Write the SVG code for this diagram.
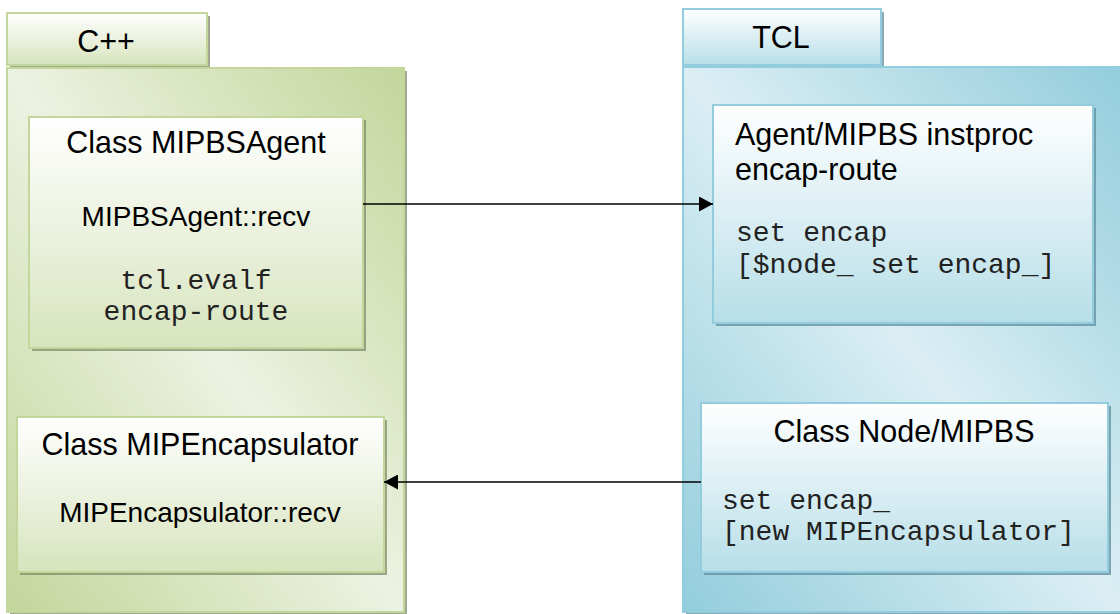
<svg xmlns="http://www.w3.org/2000/svg" width="1120" height="614" viewBox="0 0 1120 614">
<style>
.t{font-family:"Liberation Sans",Arial,sans-serif;font-size:30.5px;fill:#000}
.b{font-family:"Liberation Sans",Arial,sans-serif;font-size:28px;fill:#000}
.m{font-family:"Liberation Mono","Courier New",monospace;font-size:28px;fill:#222}
.gs{fill:#7f8c6a;opacity:.75}
.bs{fill:#5f8e9c;opacity:.75}
.gb{stroke:#c3d69b;stroke-width:2}
.bb{stroke:#93cddd;stroke-width:2}
.c{stroke:#000;stroke-width:1.5;fill:none;marker-end:url(#ah)}
</style>
<defs>
<linearGradient id="gPanel" gradientUnits="objectBoundingBox" x1="1" y1="0" x2="0" y2="1">
<stop offset="0" stop-color="#c3d69b"/><stop offset="0.5" stop-color="#ecf2e1"/><stop offset="1" stop-color="#c3d69b"/>
</linearGradient>
<linearGradient id="bPanel" gradientUnits="objectBoundingBox" x1="1" y1="0" x2="0" y2="1">
<stop offset="0" stop-color="#92cddc"/><stop offset="0.5" stop-color="#dbeef4"/><stop offset="1" stop-color="#92cddc"/>
</linearGradient>
<linearGradient id="gBox" x1="0" y1="0" x2="0" y2="1">
<stop offset="0" stop-color="#ffffff"/><stop offset="1" stop-color="#d7e4bd"/>
</linearGradient>
<linearGradient id="bBox" x1="0" y1="0" x2="0" y2="1">
<stop offset="0" stop-color="#ffffff"/><stop offset="1" stop-color="#b7dee8"/>
</linearGradient>
<marker id="ah" viewBox="0 0 14 15" refX="14" refY="7.5" markerWidth="14" markerHeight="15" markerUnits="userSpaceOnUse" orient="auto">
<path d="M0,0 L14,7.5 L0,15 Z" fill="#000"/>
</marker>
</defs>

<g id="cpp">
<rect class="gs" x="10" y="16" width="200" height="52"/>
<rect class="gb" x="7" y="13" width="200" height="52" fill="url(#gBox)"/>
<text class="t" x="106" y="52" text-anchor="middle">C++</text>
<rect class="gs" x="10" y="71" width="397" height="544"/>
<rect class="gb" x="7" y="68" width="397" height="544" fill="url(#gPanel)"/>
</g>

<g id="tcl">
<rect class="bs" x="686" y="12" width="198" height="56"/>
<rect class="bb" x="683" y="9" width="198" height="56" fill="url(#bBox)"/>
<text class="t" x="781" y="48" text-anchor="middle">TCL</text>
<rect class="bs" x="686" y="70" width="440" height="545"/>
<rect class="bb" x="683" y="67" width="440" height="545" fill="url(#bPanel)"/>
</g>

<g id="mipbsagent">
<rect class="gs" x="32" y="120" width="334" height="231"/>
<rect class="gb" x="29" y="117" width="334" height="231" fill="url(#gBox)"/>
<text class="t" x="196" y="153" text-anchor="middle">Class MIPBSAgent</text>
<text class="b" x="196" y="226" text-anchor="middle">MIPBSAgent::recv</text>
<text class="m" x="196" y="289" text-anchor="middle">tcl.evalf</text>
<text class="m" x="196" y="320" text-anchor="middle">encap-route</text>
</g>

<g id="mipencapsulator">
<rect class="gs" x="20" y="420" width="367" height="155"/>
<rect class="gb" x="17" y="417" width="367" height="155" fill="url(#gBox)"/>
<text class="t" x="200" y="455" text-anchor="middle">Class MIPEncapsulator</text>
<text class="b" x="200" y="522" text-anchor="middle">MIPEncapsulator::recv</text>
</g>

<g id="agentmipbs">
<rect class="bs" x="716" y="108" width="380" height="218"/>
<rect class="bb" x="713" y="105" width="380" height="218" fill="url(#bBox)"/>
<text class="t" x="735" y="145">Agent/MIPBS instproc</text>
<text class="t" x="735" y="180">encap-route</text>
<text class="m" x="736" y="241">set encap</text>
<text class="m" x="736" y="273">[$node_ set encap_]</text>
</g>

<g id="nodemipbs">
<rect class="bs" x="704" y="406" width="407" height="169"/>
<rect class="bb" x="701" y="403" width="407" height="169" fill="url(#bBox)"/>
<text class="t" x="904" y="442" text-anchor="middle">Class Node/MIPBS</text>
<text class="m" x="722" y="509">set encap_</text>
<text class="m" x="722" y="540">[new MIPEncapsulator]</text>
</g>

<g id="connectors">
<path class="c" d="M363,204 L713,204"/>
<path class="c" d="M701,482 L384,482"/>
</g>
</svg>
